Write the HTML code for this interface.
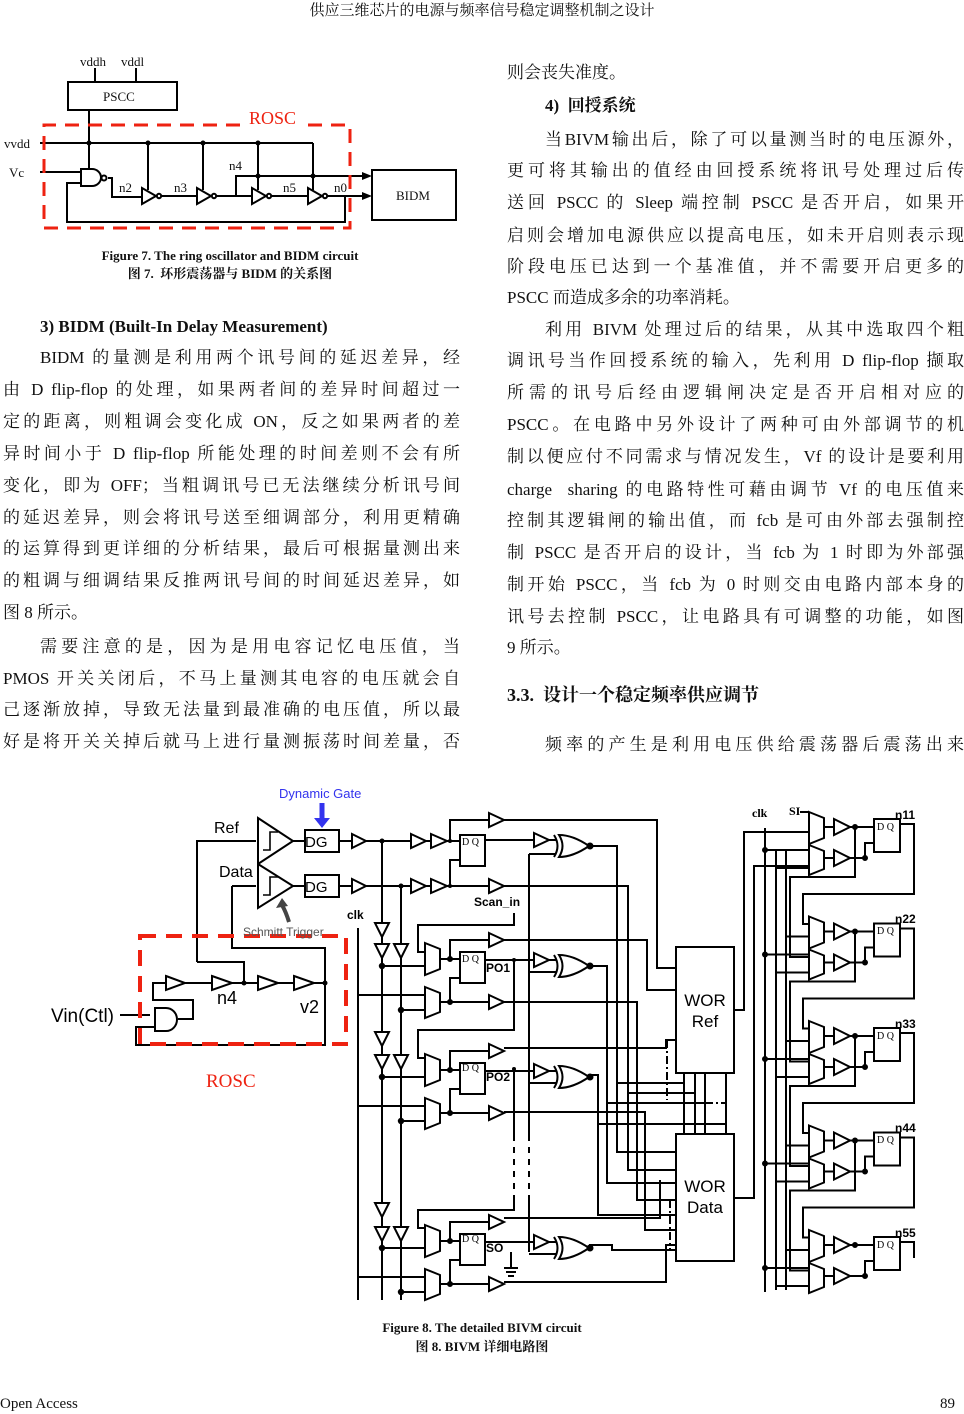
<!DOCTYPE html>
<html><head><meta charset="utf-8">
<style>
body{margin:0;background:#fff;}
#pg{position:relative;width:964px;height:1414px;overflow:hidden;font-family:"Liberation Serif","Noto Serif CJK SC",serif;color:#111;}
.l{position:absolute;font-size:17px;line-height:22px;white-space:nowrap;}
.j{text-align:justify;text-align-last:justify;white-space:normal;height:22px;overflow:hidden;}
.L{left:3px;width:457px}
.R{left:507px;width:457px}
.b{font-weight:bold}
svg{position:absolute;left:0;top:0}
</style></head><body><div id="pg">
<div class="l" style="left:0;width:964px;text-align:center;top:0;font-size:15px">供应三维芯片的电源与频率信号稳定调整机制之设计</div>

<div class="l b" style="left:40px;top:316px">3) BIDM (Built-In Delay Measurement)</div>
<div class="l j" style="left:40px;width:420px;top:347px">BIDM 的量测是利用两个讯号间的延迟差异，经</div>
<div class="l j L" style="top:379px">由 D flip-flop 的处理，如果两者间的差异时间超过一</div>
<div class="l j L" style="top:411px">定的距离，则粗调会变化成 ON，反之如果两者的差</div>
<div class="l j L" style="top:443px">异时间小于 D flip-flop 所能处理的时间差则不会有所</div>
<div class="l j L" style="top:475px">变化，即为 OFF；当粗调讯号已无法继续分析讯号间</div>
<div class="l j L" style="top:507px">的延迟差异，则会将讯号送至细调部分，利用更精确</div>
<div class="l j L" style="top:538px">的运算得到更详细的分析结果，最后可根据量测出来</div>
<div class="l j L" style="top:570px">的粗调与细调结果反推两讯号间的时间延迟差异，如</div>
<div class="l L" style="top:602px">图 8 所示。</div>
<div class="l j" style="left:40px;width:420px;top:636px">需要注意的是，因为是用电容记忆电压值，当</div>
<div class="l j L" style="top:668px">PMOS 开关关闭后，不马上量测其电容的电压就会自</div>
<div class="l j L" style="top:699px">己逐渐放掉，导致无法量到最准确的电压值，所以最</div>
<div class="l j L" style="top:731px">好是将开关关掉后就马上进行量测振荡时间差量，否</div>

<div class="l R" style="top:62px">则会丧失准度。</div>
<div class="l b" style="left:545px;top:95px">4)&nbsp; 回授系统</div>
<div class="l j" style="left:545px;width:419px;top:129px">当BIVM输出后，除了可以量测当时的电压源外，</div>
<div class="l j R" style="top:160px">更可将其输出的值经由回授系统将讯号处理过后传</div>
<div class="l j R" style="top:192px">送回 PSCC 的 Sleep 端控制 PSCC 是否开启，如果开</div>
<div class="l j R" style="top:225px">启则会增加电源供应以提高电压，如未开启则表示现</div>
<div class="l j R" style="top:256px">阶段电压已达到一个基准值，并不需要开启更多的</div>
<div class="l R" style="top:287px">PSCC 而造成多余的功率消耗。</div>
<div class="l j" style="left:545px;width:419px;top:319px">利用 BIVM 处理过后的结果，从其中选取四个粗</div>
<div class="l j R" style="top:350px">调讯号当作回授系统的输入，先利用 D flip-flop 撷取</div>
<div class="l j R" style="top:382px">所需的讯号后经由逻辑闸决定是否开启相对应的</div>
<div class="l j R" style="top:414px">PSCC。在电路中另外设计了两种可由外部调节的机</div>
<div class="l j R" style="top:446px">制以便应付不同需求与情况发生，Vf 的设计是要利用</div>
<div class="l j R" style="top:479px">charge&nbsp; sharing 的电路特性可藉由调节 Vf 的电压值来</div>
<div class="l j R" style="top:510px">控制其逻辑闸的输出值，而 fcb 是可由外部去强制控</div>
<div class="l j R" style="top:542px">制 PSCC 是否开启的设计，当 fcb 为 1 时即为外部强</div>
<div class="l j R" style="top:574px">制开始 PSCC，当 fcb 为 0 时则交由电路内部本身的</div>
<div class="l j R" style="top:606px">讯号去控制 PSCC，让电路具有可调整的功能，如图</div>
<div class="l R" style="top:637px">9 所示。</div>
<div class="l b" style="left:507px;top:684px;font-size:18px">3.3.&nbsp; 设计一个稳定频率供应调节</div>
<div class="l j" style="left:545px;width:419px;top:734px">频率的产生是利用电压供给震荡器后震荡出来</div>

<div class="l b" style="left:0;width:460px;text-align:center;top:245px;font-size:13px">Figure 7. The ring oscillator and BIDM circuit</div>
<div class="l b" style="left:0;width:460px;text-align:center;top:263px;font-size:13px">图 7.&nbsp; 环形震荡器与 BIDM 的关系图</div>
<div class="l b" style="left:0;width:964px;text-align:center;top:1317px;font-size:13px">Figure 8. The detailed BIVM circuit</div>
<div class="l b" style="left:0;width:964px;text-align:center;top:1336px;font-size:13px">图 8. BIVM 详细电路图</div>
<div class="l" style="left:0;top:1393px;font-size:15px">Open Access</div>
<div class="l" style="left:940px;top:1393px;font-size:15px">89</div>

<svg width="964" height="1414" viewBox="0 0 964 1414" xmlns="http://www.w3.org/2000/svg">
<defs>
<g id="xor" fill="#fff" stroke="#000" stroke-width="2">
<path d="M0,0 Q14,0 30,11 Q14,22 0,22 Q7,11 0,0 Z"/>
<path d="M-5,0 Q2,11 -5,22" fill="none"/>
<circle cx="31" cy="11" r="2.5" fill="#000"/>
</g>
<g id="lb" fill="none" stroke="#000" stroke-width="2">
<polygon points="425,943 440,949 440,969 425,975" fill="#fff"/>
<polygon points="425,987 440,993 440,1012 425,1018" fill="#fff"/>
<rect x="460" y="952" width="25" height="31" fill="#fff"/>
<path d="M440,959 H460 M450,959 V940 H489 M440,1002 H489 M450,1002 V978 H460 M382,966 H425 M401,1010 H425 M358,995 H425 M485,960 H534 M549,960 H556 M529,972 H556"/>
<polygon points="489,933 504,940 489,947" fill="#fff"/>
<polygon points="489,995 504,1002 489,1009" fill="#fff"/>
<polygon points="534,953 549,960 534,967" fill="#fff"/>
<use href="#xor" x="559" y="955"/>
<circle cx="450" cy="959" r="2" fill="#000"/><circle cx="450" cy="1002" r="2" fill="#000"/>
<circle cx="382" cy="966" r="2.2" fill="#000"/><circle cx="401" cy="1010" r="2.2" fill="#000"/>
</g>
<g id="rgb" fill="none" stroke="#000" stroke-width="2">
<polygon points="809,812 824,818 824,838 809,844" fill="#fff"/>
<polygon points="809,845 824,851 824,869 809,875" fill="#fff"/>
<polygon points="834,819 850,827 834,835" fill="#fff"/>
<polygon points="834,850 850,858 834,866" fill="#fff"/>
<rect x="874" y="819" width="26" height="33" fill="#fff"/>
<path d="M824,827 H834 M850,827 H874 M824,858 H834 M850,858 H865 V843 H874 M900,824 H914 V840 M776,868 H809 M765,850 H809 M785,832 H809"/>
<circle cx="855" cy="827" r="2" fill="#000"/><circle cx="865" cy="858" r="2" fill="#000"/><circle cx="765" cy="850" r="2" fill="#000"/>
</g>
<g id="rg" fill="none" stroke="#000" stroke-width="2">
<use href="#rgb"/>
<path d="M914,824 V894 H803 V924 H809 M855,827 V877 H790 V957 H809"/>
</g>
</defs>

<!-- ===== Figure 7 ===== -->
<g fill="none" stroke="#000" stroke-width="2">
<rect x="68" y="82" width="109" height="28"/>
<path d="M95,68 V82 M136,68 V82 M89,110 V143 M40,143 H313 M148,143 V190 M203,143 V190 M258,143 V190 M313,143 V190 M40,172 H81 M108,178 H112 V197 H142 M161,196 H197 M216,196 H252 M271,196 H308 M236,196 V176 H368 M326,196 H368 M345,196 V222 H67 V183 H81 M89,143 V169"/>
<path d="M81,169 H92 A9,8.5 0 0 1 92,186 H81 Z" fill="#fff"/>
<circle cx="104" cy="178" r="2.5" fill="#fff"/>
<polygon points="142,188 156,196 142,204" fill="#fff"/><circle cx="159" cy="196" r="2.2" fill="#fff"/>
<polygon points="197,188 211,196 197,204" fill="#fff"/><circle cx="214" cy="196" r="2.2" fill="#fff"/>
<polygon points="252,188 266,196 252,204" fill="#fff"/><circle cx="269" cy="196" r="2.2" fill="#fff"/>
<polygon points="308,188 322,196 308,204" fill="#fff"/><circle cx="325" cy="196" r="2.2" fill="#fff"/>
<rect x="372" y="170" width="84" height="50"/>
</g>
<g fill="#000"><circle cx="89" cy="143" r="2.5"/><circle cx="148" cy="143" r="2.5"/><circle cx="203" cy="143" r="2.5"/><circle cx="258" cy="143" r="2.5"/><circle cx="258" cy="176" r="2.5"/><circle cx="313" cy="176" r="2.5"/>
<polygon points="362,172 372,176 362,180"/><polygon points="362,192 372,196 362,200"/></g>
<path d="M240,125 H44 V228 H350 V125 H305" fill="none" stroke="#e21" stroke-width="3" stroke-dasharray="14 9"/>
<g font-family="Liberation Serif,serif" font-size="13" fill="#111">
<text x="80" y="66">vddh</text><text x="121" y="66">vddl</text>
<text x="103" y="101">PSCC</text><text x="4" y="148">vvdd</text><text x="9" y="177">Vc</text>
<text x="119" y="192">n2</text><text x="174" y="192">n3</text><text x="229" y="170">n4</text><text x="283" y="192">n5</text><text x="334" y="192">n0</text>
<text x="396" y="200">BIDM</text>
<text x="249" y="124" font-size="18" fill="#e21">ROSC</text>
</g>

<!-- ===== Figure 8 ===== -->
<g fill="none" stroke="#000" stroke-width="2">
<polygon points="258,818 293,841 258,864" fill="#fff"/>
<polygon points="258,864 293,886 258,908" fill="#fff"/>
<path d="M263,850 H270 V832 H278 M263,895 H270 V877 H278" stroke-width="1.6"/>
<rect x="305" y="830" width="34" height="22" fill="#fff"/>
<rect x="305" y="875" width="34" height="22" fill="#fff"/>
<path d="M197,962 V841 H256 M293,841 H305 M339,841 H352 M293,886 H305 M339,886 H352 M232,886 H256 M232,886 V948 H325 V1045 H136 V1027 H155 M197,962 H244 V983 M366,841 H411 M426,841 H431 M447,841 H460 M450,841 V820 H489 M366,886 H411 M426,886 H431 M447,886 H489 M450,886 V860 H460 M485,840 H534 M549,840 H556 M529,854 H556 M382,841 V1300 M401,886 V1300 M358,928 V1300 M514,913 V925 H418 V952 H425 M529,854 V1135 M529,1195 V1252 M514,960 V1030 H418 V1058 H425 M514,1069 V1135 M514,1195 V1210 H418 V1228 H425"/>
<polygon points="352,834 366,841 352,848" fill="#fff"/>
<polygon points="352,879 366,886 352,893" fill="#fff"/>
<polygon points="411,834 426,841 411,848" fill="#fff"/><polygon points="431,834 447,841 431,848" fill="#fff"/>
<polygon points="411,879 426,886 411,893" fill="#fff"/><polygon points="431,879 447,886 431,893" fill="#fff"/>
<polygon points="489,813 504,820 489,827" fill="#fff"/><polygon points="489,879 504,886 489,893" fill="#fff"/>
<polygon points="534,833 549,840 534,847" fill="#fff"/>
<rect x="460" y="835" width="25" height="31" fill="#fff"/>
<use href="#xor" x="559" y="835"/>
<path d="M178,1019 H193 V1000 H153 V983 H166 M185,983 H212 M232,983 H258 M278,983 H294 M314,983 H325 M120,1015 H150"/>
<path d="M155,1008 H166 A11,11.5 0 0 1 166,1031 H155 Z" fill="#fff"/>
<polygon points="166,976 185,983 166,990" fill="#fff"/><polygon points="212,976 232,983 212,990" fill="#fff"/>
<polygon points="258,976 278,983 258,990" fill="#fff"/><polygon points="294,976 314,983 294,990" fill="#fff"/>
<g fill="#fff"><polygon points="375,923 389,923 382,937"/><polygon points="375,944 389,944 382,958"/><polygon points="394,944 408,944 401,958"/>
<polygon points="375,1032 389,1032 382,1046"/><polygon points="375,1055 389,1055 382,1069"/><polygon points="394,1055 408,1055 401,1069"/>
<polygon points="375,1203 389,1203 382,1217"/><polygon points="375,1227 389,1227 382,1241"/><polygon points="394,1227 408,1227 401,1241"/></g>
<path d="M504,820 H657 V968 H676 M589,846 H617 V1152 H676 M504,886 H628 V1170 H676 M504,940 H647 V990 H676 M589,966 H607 V1183 H676 M504,1002 H637 V1200 H676 M504,1048 H666 V1040 H676 M589,1075 H598 V1215 H676 M504,1112 H645 V1230 H676 M504,1218 H660 V1180 M589,1245 H612 V1250 H676 M504,1282 H666 V1245 H676 M617,1083 H684 M628,1093 H695 M607,1103 H705 M598,1124 H726 M684,1073 V1134 M695,1073 V1134 M705,1073 V1134 M726,1073 V1134"/>
<rect x="676" y="947" width="58" height="126" fill="#fff"/>
<rect x="676" y="1134" width="58" height="127" fill="#fff"/>
<path d="M734,1010 H744 V832 H809 M734,1198 H754 V866 H809 M765,828 V1292 M776,850 V1290 M786,850 V1290 M800,812 H809"/>
<path d="M511,1252 V1268 M504,1268 H518 M506,1272 H516 M508,1276 H514"/>
</g>
<g stroke="#000" stroke-width="2" fill="none" stroke-dasharray="6 6">
<path d="M382,1135 V1195 M401,1135 V1195 M514,1135 V1195 M529,1135 V1195"/>
</g>
<g stroke="#000" stroke-width="2" fill="none" stroke-dasharray="8 3 2 3"><path d="M667,1040 V1100 M670,1200 V1250 M705,1103 H725"/></g>
<use href="#lb"/><use href="#lb" y="111"/><use href="#lb" y="282"/>
<use href="#rg"/><use href="#rg" y="104.5"/><use href="#rg" y="209"/><use href="#rg" y="313.5"/><use href="#rgb" y="418"/>
<rect x="140" y="936" width="206" height="108" fill="none" stroke="#e21" stroke-width="4" stroke-dasharray="16 10"/>
<path d="M322,803 V820" stroke="#33e" stroke-width="5"/><polygon points="314,818 330,818 322,828" fill="#33e"/>
<path d="M289,922 Q286,912 282,905" stroke="#444" stroke-width="4" fill="none"/><polygon points="276,908 282,898 288,906" fill="#444"/>
<g fill="#000"><circle cx="382" cy="841" r="2.5"/><circle cx="401" cy="886" r="2.5"/><circle cx="450" cy="841" r="2"/><circle cx="450" cy="886" r="2"/><circle cx="244" cy="983" r="2.5"/><circle cx="325" cy="983" r="2.5"/><circle cx="514" cy="960" r="2"/><circle cx="514" cy="1069" r="2"/></g>

<g font-family="Liberation Sans,sans-serif">
<text x="279" y="798" font-size="13" fill="#33e">Dynamic Gate</text>
<text x="214" y="833" font-size="16">Ref</text>
<text x="219" y="877" font-size="16">Data</text>
<text x="243" y="936" font-size="12" fill="#555">Schmitt Trigger</text>
<text x="347" y="919" font-size="12" font-weight="bold">clk</text>
<text x="474" y="906" font-size="12" font-weight="bold">Scan_in</text>
<text x="486" y="972" font-size="12" font-weight="bold">PO1</text>
<text x="486" y="1081" font-size="12" font-weight="bold">PO2</text>
<text x="486" y="1252" font-size="12" font-weight="bold">SO</text>
<text x="51" y="1022" font-size="19">Vin(Ctl)</text>
<text x="217" y="1004" font-size="18">n4</text>
<text x="300" y="1013" font-size="18">v2</text>
<text x="206" y="1087" font-size="19" fill="#e21" font-family="Liberation Serif,serif">ROSC</text>
<text x="705" y="1006" font-size="17" text-anchor="middle">WOR</text>
<text x="705" y="1027" font-size="17" text-anchor="middle">Ref</text>
<text x="705" y="1192" font-size="17" text-anchor="middle">WOR</text>
<text x="705" y="1213" font-size="17" text-anchor="middle">Data</text>
<text x="752" y="817" font-size="12" font-family="Liberation Serif,serif" font-weight="bold">clk</text>
<text x="789" y="815" font-size="12" font-family="Liberation Serif,serif" font-weight="bold">SI</text>
<g font-size="12" font-weight="bold"><text x="895" y="819">n11</text><text x="895" y="923">n22</text><text x="895" y="1028">n33</text><text x="895" y="1132">n44</text><text x="895" y="1237">n55</text></g>
</g>
<g font-family="Liberation Serif,serif" font-size="10"><text x="462" y="845">D Q</text><text x="462" y="962">D Q</text><text x="462" y="1071">D Q</text><text x="462" y="1242">D Q</text>
<text x="877" y="830">D Q</text><text x="877" y="934">D Q</text><text x="877" y="1039">D Q</text><text x="877" y="1143">D Q</text><text x="877" y="1248">D Q</text>
<text x="305" y="847" font-size="15" font-family="Liberation Sans,sans-serif">DG</text><text x="305" y="892" font-size="15" font-family="Liberation Sans,sans-serif">DG</text></g>
</svg>
</div></body></html>
